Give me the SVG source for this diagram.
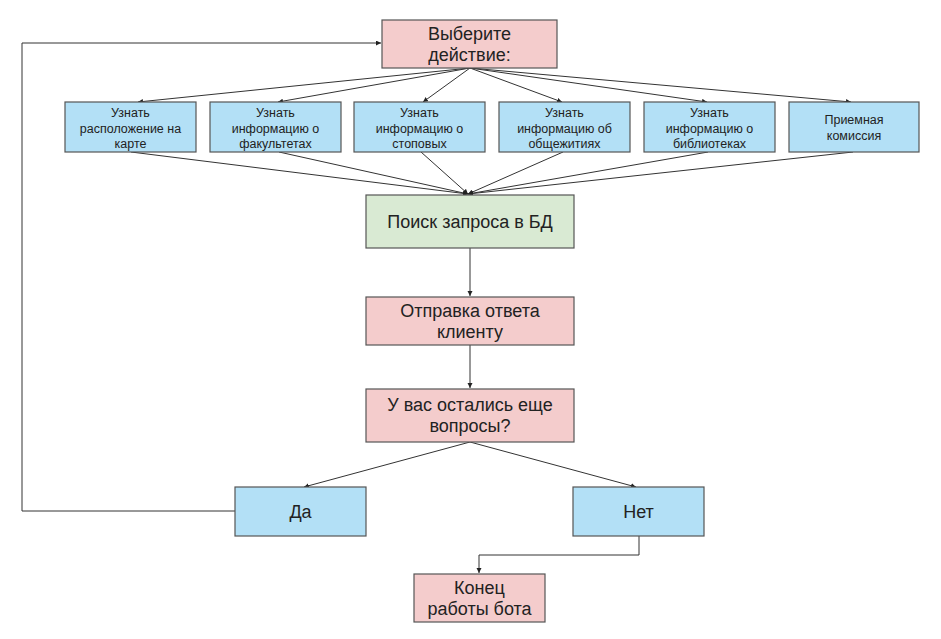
<svg xmlns="http://www.w3.org/2000/svg" width="941" height="639" viewBox="0 0 941 639">
<style>
.pink{fill:#f4cccc;stroke:#555;stroke-width:1.2}
.blue{fill:#b3e0f6;stroke:#555;stroke-width:1.2}
.green{fill:#d9ead3;stroke:#555;stroke-width:1.2}
text{font-family:"Liberation Sans",Arial,sans-serif;fill:#222;text-anchor:middle;dominant-baseline:central}
.big{font-size:18px}
.sm{font-size:12.5px}
.c{fill:none;stroke:#333;stroke-width:1}
</style>
<defs>
<marker id="ah" markerUnits="userSpaceOnUse" markerWidth="6" markerHeight="6" refX="5" refY="2.5" orient="auto">
<path d="M0,0 L5,2.5 L0,5 z" fill="#222"/>
</marker>
</defs>
<rect width="941" height="639" fill="#fff"/>
<g id="connectors">
<line class="c" x1="470" y1="68" x2="138" y2="102" marker-end="url(#ah)"/>
<line class="c" x1="470" y1="68" x2="278" y2="102" marker-end="url(#ah)"/>
<line class="c" x1="470" y1="68" x2="423" y2="102" marker-end="url(#ah)"/>
<line class="c" x1="470" y1="68" x2="562" y2="102" marker-end="url(#ah)"/>
<line class="c" x1="470" y1="68" x2="707" y2="102" marker-end="url(#ah)"/>
<line class="c" x1="470" y1="68" x2="851" y2="102" marker-end="url(#ah)"/>
<line class="c" x1="131" y1="152" x2="468" y2="194" marker-end="url(#ah)"/>
<line class="c" x1="279" y1="152" x2="468" y2="194" marker-end="url(#ah)"/>
<line class="c" x1="421" y1="152" x2="468" y2="194" marker-end="url(#ah)"/>
<line class="c" x1="563" y1="152" x2="468" y2="194" marker-end="url(#ah)"/>
<line class="c" x1="708" y1="152" x2="468" y2="194" marker-end="url(#ah)"/>
<line class="c" x1="853" y1="152" x2="468" y2="194" marker-end="url(#ah)"/>
<line class="c" x1="470" y1="248" x2="470" y2="296" marker-end="url(#ah)"/>
<line class="c" x1="470" y1="345" x2="470" y2="388" marker-end="url(#ah)"/>
<line class="c" x1="470" y1="442" x2="304" y2="487" marker-end="url(#ah)"/>
<line class="c" x1="470" y1="442" x2="636" y2="487" marker-end="url(#ah)"/>
<polyline class="c" points="639,536 639,555 479,555 479,573" marker-end="url(#ah)"/>
<polyline class="c" points="235,511 22,511 22,43 381,43" marker-end="url(#ah)"/>
</g>
<g id="choose">
<rect class="pink" x="382" y="20" width="175" height="48"/>
<text class="big" x="469.5" y="34">Выберите</text>
<text class="big" x="469.5" y="55">действие:</text>
</g>
<g id="opt-map">
<rect class="blue" x="65" y="102" width="131" height="50"/>
<text class="sm" x="130.5" y="113">Узнать</text>
<text class="sm" x="130.5" y="128.5">расположение на</text>
<text class="sm" x="130.5" y="144">карте</text>
</g>
<g id="opt-faculties">
<rect class="blue" x="210" y="102" width="131" height="50"/>
<text class="sm" x="275.5" y="113">Узнать</text>
<text class="sm" x="275.5" y="128.5">информацию о</text>
<text class="sm" x="275.5" y="144">факультетах</text>
</g>
<g id="opt-canteens">
<rect class="blue" x="354" y="102" width="131" height="50"/>
<text class="sm" x="419.5" y="113">Узнать</text>
<text class="sm" x="419.5" y="128.5">информацию о</text>
<text class="sm" x="419.5" y="144">стоповых</text>
</g>
<g id="opt-dorms">
<rect class="blue" x="499" y="102" width="131" height="50"/>
<text class="sm" x="564.5" y="113">Узнать</text>
<text class="sm" x="564.5" y="128.5">информацию об</text>
<text class="sm" x="564.5" y="144">общежитиях</text>
</g>
<g id="opt-libraries">
<rect class="blue" x="644" y="102" width="131" height="50"/>
<text class="sm" x="709.5" y="113">Узнать</text>
<text class="sm" x="709.5" y="128.5">информацию о</text>
<text class="sm" x="709.5" y="144">библиотеках</text>
</g>
<g id="opt-admission">
<rect class="blue" x="789" y="102" width="130" height="50"/>
<text class="sm" x="854" y="120">Приемная</text>
<text class="sm" x="854" y="135.5">комиссия</text>
</g>
<g id="search">
<rect class="green" x="366" y="195" width="208" height="53"/>
<text class="big" x="470" y="222">Поиск запроса в БД</text>
</g>
<g id="reply">
<rect class="pink" x="366" y="297" width="208" height="48"/>
<text class="big" x="470" y="311">Отправка ответа</text>
<text class="big" x="470" y="332">клиенту</text>
</g>
<g id="question">
<rect class="pink" x="366" y="389" width="208" height="53"/>
<text class="big" x="470" y="405">У вас остались еще</text>
<text class="big" x="470" y="426">вопросы?</text>
</g>
<g id="yes">
<rect class="blue" x="235" y="487" width="131" height="49"/>
<text class="big" x="300.5" y="512">Да</text>
</g>
<g id="no">
<rect class="blue" x="573" y="487" width="131" height="49"/>
<text class="big" x="638.5" y="512">Нет</text>
</g>
<g id="end">
<rect class="pink" x="414" y="574" width="131" height="48"/>
<text class="big" x="479.5" y="588">Конец</text>
<text class="big" x="479.5" y="609">работы бота</text>
</g>
</svg>
